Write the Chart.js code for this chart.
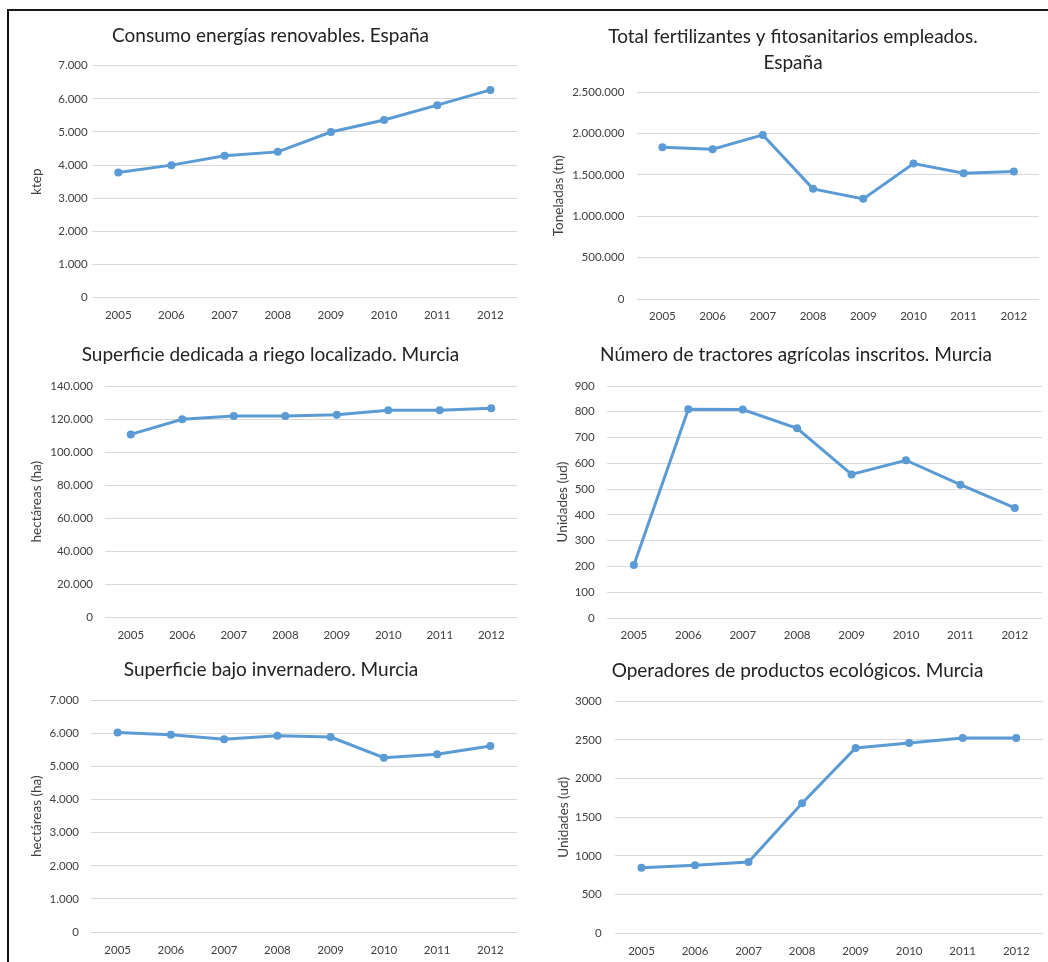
<!DOCTYPE html>
<html>
<head>
<meta charset="utf-8">
<script src="https://cdn.jsdelivr.net/npm/chart.js@4.4.0/dist/chart.umd.min.js"></script>
<style>
  html, body { margin: 0; padding: 0; background: #ffffff; }
  body { width: 1048px; height: 962px; position: relative; overflow: hidden; }
  #hline { position: absolute; left: 7px; top: 9px; width: 1041px; height: 2px; background: #1a1a1a; }
  #vline { position: absolute; left: 7px; top: 9px; width: 2px; height: 953px; background: #111; }
  .box { position: absolute; }
</style>
</head>
<body>
<div id="hline"></div>
<div id="vline"></div>
<div class="box" id="b1"><canvas id="c1"></canvas></div>
<div class="box" id="b2"><canvas id="c2"></canvas></div>
<div class="box" id="b3"><canvas id="c3"></canvas></div>
<div class="box" id="b4"><canvas id="c4"></canvas></div>
<div class="box" id="b5"><canvas id="c5"></canvas></div>
<div class="box" id="b6"><canvas id="c6"></canvas></div>
<script>
// ---------- DATA ----------
const years = ['2005', '2006', '2007', '2008', '2009', '2010', '2011', '2012'];

const renovablesTitle = 'Consumo energías renovables. España';
const renovablesAxis = 'ktep';
const renovables = [3780, 4000, 4280, 4400, 5000, 5360, 5810, 6270];
const renovablesMax = 7000, renovablesStep = 1000;

const fertilizantesTitle = ['Total fertilizantes y fitosanitarios empleados.', 'España'];
const fertilizantesAxis = 'Toneladas (tn)';
const fertilizantes = [1835000, 1812000, 1985000, 1332000, 1211000, 1638000, 1522000, 1541000];
const fertilizantesMax = 2500000, fertilizantesStep = 500000;

const riegoTitle = 'Superficie dedicada a riego localizado. Murcia';
const riegoAxis = 'hectáreas (ha)';
const riego = [110700, 119900, 121900, 121900, 122600, 125300, 125300, 126500];
const riegoMax = 140000, riegoStep = 20000;

const tractoresTitle = 'Número de tractores agrícolas inscritos. Murcia';
const tractoresAxis = 'Unidades (ud)';
const tractores = [206, 810, 809, 736, 557, 612, 517, 427];
const tractoresMax = 900, tractoresStep = 100;

const invernaderoTitle = 'Superficie bajo invernadero. Murcia';
const invernaderoAxis = 'hectáreas (ha)';
const invernadero = [6030, 5960, 5820, 5930, 5890, 5265, 5368, 5620];
const invernaderoMax = 7000, invernaderoStep = 1000;

const ecologicosTitle = 'Operadores de productos ecológicos. Murcia';
const ecologicosAxis = 'Unidades (ud)';
const ecologicos = [848, 879, 922, 1681, 2396, 2461, 2525, 2525];
const ecologicosMax = 3000, ecologicosStep = 500;

// ---------- HELPERS ----------
function fmtDots(v) {
  return String(Math.round(v)).replace(/\B(?=(\d{3})+(?!\d))/g, '.');
}
function fmtPlain(v) { return String(Math.round(v)); }

const FONT = 'Lato, "Open Sans", "DejaVu Sans", sans-serif';
const LINE = '#5B9BD5';
const GRID = '#D9D9D9';
const TICK = '#404040';
const TITLE = '#222222';
const TITLE_SIZE = 19;
const TITLE_LH = 1.37;
const TICK_SIZE = 11.5;
const AXIS_SIZE = 13.5;
const RIGHT_PAD = 4;

// L.titleX: horizontal centre of the title; the chart box is made symmetric around it
function makeChart(id, L) {
  const boxRight = L.plot[2] + RIGHT_PAD;
  const boxLeft = Math.round(2 * L.titleX - boxRight);
  const boxEl = document.getElementById('b' + id);
  boxEl.style.left = boxLeft + 'px';
  boxEl.style.top = L.top + 'px';
  boxEl.style.width = Math.round(boxRight - boxLeft) + 'px';
  boxEl.style.height = (L.bottom - L.top) + 'px';

  const lines = Array.isArray(L.title) ? L.title.length : 1;
  const lh = TITLE_SIZE * TITLE_LH;
  const padTop = L.titleY - L.top - lh / 2;
  const padBottom = L.plot[1] - L.top - padTop - lines * lh;
  const yWidth = L.plot[0] - boxLeft;
  const xHeight = L.bottom - L.plot[3];
  const xPad = L.xLabY - L.plot[3] - TICK_SIZE * 0.58;
  const yTitlePad = L.yTitleX - boxLeft - (AXIS_SIZE * 1.2) / 2;

  new Chart(document.getElementById('c' + id), {
    type: 'line',
    data: {
      labels: L.labels,
      datasets: [{
        data: L.data,
        borderColor: LINE,
        backgroundColor: LINE,
        borderWidth: 3,
        pointRadius: 4,
        pointBorderWidth: 0,
        pointBackgroundColor: LINE,
        tension: 0,
        fill: false
      }]
    },
    options: {
      responsive: true,
      maintainAspectRatio: false,
      devicePixelRatio: 1,
      animation: false,
      layout: { padding: 0 },
      plugins: {
        legend: { display: false },
        tooltip: { enabled: false },
        title: {
          display: true,
          text: L.title,
          color: TITLE,
          font: { family: FONT, size: TITLE_SIZE, weight: 'normal', lineHeight: TITLE_LH },
          padding: { top: padTop, bottom: padBottom }
        }
      },
      scales: {
        x: {
          offset: true,
          grid: { display: false, drawTicks: false },
          border: { display: false },
          ticks: { color: TICK, font: { family: FONT, size: TICK_SIZE }, padding: xPad, maxRotation: 0, autoSkip: false },
          afterFit: function (s) { s.height = xHeight; }
        },
        y: {
          min: 0,
          max: L.max,
          grid: { color: GRID, lineWidth: 1, drawTicks: false },
          border: { display: false },
          ticks: { stepSize: L.step, color: TICK, font: { family: FONT, size: TICK_SIZE }, padding: L.yPad, callback: L.fmt },
          title: {
            display: true,
            text: L.yTitle,
            color: TICK,
            font: { family: FONT, size: AXIS_SIZE },
            padding: { top: yTitlePad, bottom: 0 }
          },
          afterFit: function (s) { s.width = yWidth; }
        }
      }
    }
  });
}

function drawAll() {
  makeChart(1, { labels: years, data: renovables, max: renovablesMax, step: renovablesStep, fmt: fmtDots,
    title: renovablesTitle, yTitle: renovablesAxis, top: 18, bottom: 326, titleX: 270.5,
    plot: [91.7, 65.7, 517, 297.7], titleY: 36, xLabY: 314.7, yTitleX: 37, yPad: 4 });
  makeChart(2, { labels: years, data: fertilizantes, max: fertilizantesMax, step: fertilizantesStep, fmt: fmtDots,
    title: fertilizantesTitle, yTitle: fertilizantesAxis, top: 18, bottom: 326, titleX: 793,
    plot: [637.3, 92.3, 1039, 299], titleY: 36.7, xLabY: 315.7, yTitleX: 559, yPad: 13 });
  makeChart(3, { labels: years, data: riego, max: riegoMax, step: riegoStep, fmt: fmtDots,
    title: riegoTitle, yTitle: riegoAxis, top: 330, bottom: 645, titleX: 270.5,
    plot: [105, 386, 516.7, 617.3], titleY: 355, xLabY: 635, yTitleX: 36.7, yPad: 12 });
  makeChart(4, { labels: years, data: tractores, max: tractoresMax, step: tractoresStep, fmt: fmtPlain,
    title: tractoresTitle, yTitle: tractoresAxis, top: 330, bottom: 645, titleX: 796,
    plot: [606.7, 386, 1042, 618], titleY: 355, xLabY: 635, yTitleX: 562.3, yPad: 12 });
  makeChart(5, { labels: years, data: invernadero, max: invernaderoMax, step: invernaderoStep, fmt: fmtDots,
    title: invernaderoTitle, yTitle: invernaderoAxis, top: 645, bottom: 962, titleX: 270.8,
    plot: [91, 700.3, 516.7, 932], titleY: 670, xLabY: 950, yTitleX: 36.7, yPad: 12 });
  makeChart(6, { labels: years, data: ecologicos, max: ecologicosMax, step: ecologicosStep, fmt: fmtPlain,
    title: ecologicosTitle, yTitle: ecologicosAxis, top: 645, bottom: 962, titleX: 797.3,
    plot: [614.7, 701.3, 1043, 933.3], titleY: 670.7, xLabY: 950.7, yTitleX: 564, yPad: 13 });
}

if (document.fonts && document.fonts.load) {
  Promise.all([
    document.fonts.load('19px Lato'),
    document.fonts.load('11.5px Lato')
  ]).then(drawAll, drawAll);
} else {
  drawAll();
}
</script>
</body>
</html>
